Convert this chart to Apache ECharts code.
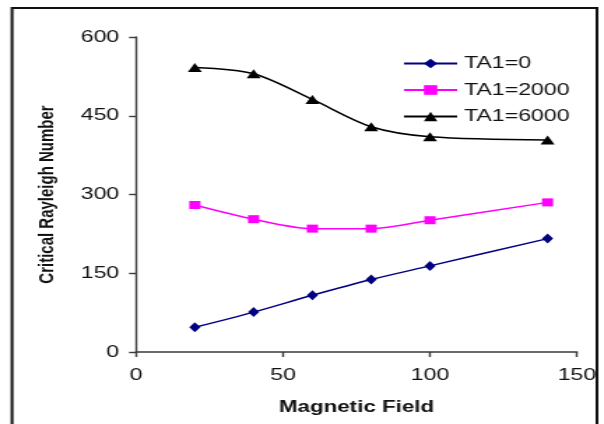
<!DOCTYPE html>
<html>
<head>
<meta charset="utf-8">
<script src="https://cdn.jsdelivr.net/npm/echarts@6/dist/echarts.min.js"></script>
<style>
  html, body { margin: 0; padding: 0; background: #fff; overflow: hidden; }
  #wrap { width: 604px; height: 424px; overflow: hidden; }
  /* chart is laid out narrower and widened horizontally */
  #chart { width: 432px; height: 424px; transform: scaleX(1.398); transform-origin: 0 0; }
</style>
</head>
<body>
<div id="wrap"><div id="chart"></div></div>
<script>
// Magnetic field values on the x axis
const fields = [20, 40, 60, 80, 100, 140];
// Critical Rayleigh number for each TA1 value
const ta0 = [47, 76, 108, 138, 164, 216];
const ta2000 = [280, 253, 235, 235, 251, 285];
const ta6000 = [542, 530, 481, 429, 410, 404];
const seriesNames = ['TA1=0', 'TA1=2000', 'TA1=6000'];
const xTicks = [0, 50, 100, 150];
const yTicks = [0, 150, 300, 450, 600];

const pairs = vals => fields.map((f, i) => [f, vals[i]]);

const chart = echarts.init(document.getElementById('chart'), null, { renderer: 'canvas' });
const font = 'Liberation Sans, Arial, sans-serif';

chart.setOption({
  backgroundColor: '#fff',
  animation: false,
  graphic: [{
    type: 'rect',
    shape: { x: 8.6, y: 8, width: 418.4, height: 440 },
    style: { fill: 'none', stroke: '#111', lineWidth: 2 },
    silent: true
  }],
  grid: { left: 97.3, right: 19.3, top: 37, bottom: 72, containLabel: false },
  legend: {
    data: seriesNames,
    orient: 'vertical',
    left: 283,
    top: 50,
    itemWidth: 38,
    itemHeight: 12,
    itemGap: 9.5,
    textStyle: { fontFamily: font, fontSize: 16.5, color: '#111', lineHeight: 16 }
  },
  xAxis: {
    type: 'value',
    min: xTicks[0],
    max: xTicks[xTicks.length - 1],
    interval: 50,
    name: 'Magnetic Field',
    nameLocation: 'middle',
    nameGap: 48,
    nameTextStyle: { fontFamily: font, fontSize: 16, fontWeight: 'bold', color: '#111' },
    axisLine: { show: true, lineStyle: { color: '#3a3a3a', width: 1.6 } },
    axisTick: { show: true, inside: false, length: 5, lineStyle: { color: '#3a3a3a', width: 1.4 } },
    axisLabel: { fontFamily: font, fontSize: 16.5, color: '#111', margin: 15 },
    splitLine: { show: false }
  },
  yAxis: {
    type: 'value',
    min: yTicks[0],
    max: yTicks[yTicks.length - 1],
    interval: 150,
    name: 'Critical Rayleigh Number',
    nameLocation: 'middle',
    nameGap: 56,
    nameTextStyle: { fontFamily: font, fontSize: 15, fontWeight: 'bold', color: '#111' },
    axisLine: { show: true, lineStyle: { color: '#3a3a3a', width: 1.4 } },
    axisTick: { show: true, inside: false, length: 5, lineStyle: { color: '#3a3a3a', width: 1.4 } },
    axisLabel: { fontFamily: font, fontSize: 16.5, color: '#111', margin: 12 },
    splitLine: { show: false }
  },
  series: [
    {
      name: seriesNames[0], type: 'line', data: pairs(ta0), smooth: 0.3,
      symbol: 'diamond', symbolSize: [8, 10],
      lineStyle: { color: '#000080', width: 1.5 },
      itemStyle: { color: '#000080' }
    },
    {
      name: seriesNames[1], type: 'line', data: pairs(ta2000), smooth: 0.3,
      symbol: 'rect', symbolSize: [8, 8],
      lineStyle: { color: '#ff00ff', width: 1.5 },
      itemStyle: { color: '#ff00ff' }
    },
    {
      name: seriesNames[2], type: 'line', data: pairs(ta6000), smooth: 0.3,
      symbol: 'triangle', symbolSize: [10, 9],
      lineStyle: { color: '#000000', width: 1.5 },
      itemStyle: { color: '#000000' }
    }
  ]
});
</script>
</body>
</html>
